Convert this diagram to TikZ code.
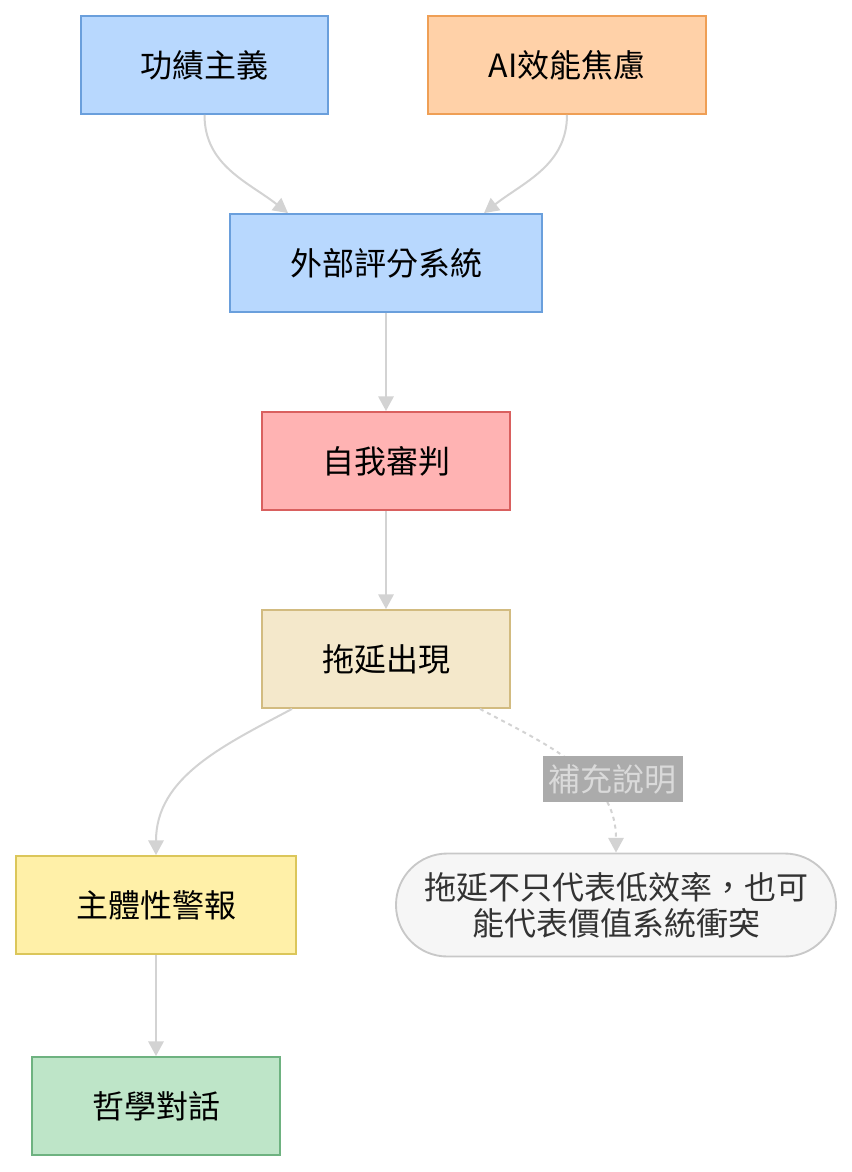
\documentclass[tikz,border=0pt]{standalone}
\usepackage{fontspec}
\newfontfamily\cjk{Noto Sans CJK TC}
\usetikzlibrary{arrows.meta}
\definecolor{blueFill}{HTML}{B8D8FE}
\definecolor{blueLine}{HTML}{6A9FDC}
\definecolor{orangeFill}{HTML}{FFD1A8}
\definecolor{orangeLine}{HTML}{EF9F55}
\definecolor{redFill}{HTML}{FFB3B3}
\definecolor{redLine}{HTML}{D9605F}
\definecolor{tanFill}{HTML}{F4E8CB}
\definecolor{tanLine}{HTML}{D2BB80}
\definecolor{yellowFill}{HTML}{FFF0A8}
\definecolor{yellowLine}{HTML}{DBC65A}
\definecolor{greenFill}{HTML}{BEE5C8}
\definecolor{greenLine}{HTML}{6EB280}
\definecolor{noteFill}{HTML}{F6F6F6}
\definecolor{noteLine}{HTML}{C8C8C8}
\definecolor{edgeGray}{HTML}{D3D3D3}
\definecolor{labelFill}{HTML}{ABABAB}
\definecolor{labelText}{HTML}{DADADA}
\tikzset{
  box/.style={draw, line width=1.4pt, minimum height=73.5pt, inner sep=0pt,
    font=\cjk\fontsize{24}{27}\selectfont, text=black},
  flow/.style={draw=edgeGray, line width=1.5pt,
    -{Triangle[length=11pt,width=11.5pt]}},
  hint/.style={flow, dash pattern=on 3pt off 3pt},
  hintlabel/.style={fill=labelFill, text=labelText, inner xsep=4.5pt,
    minimum height=34.5pt, font=\cjk\fontsize{24}{27}\selectfont}}

\begin{document}
\begin{tikzpicture}[x=0.75pt, y=0.75pt]
  \useasboundingbox (0,0) rectangle (852,-1172);
  % sources at the top
  \node[box, fill=blueFill, draw=blueLine, minimum width=185.25pt] (merit) at (204.5,-65) {功績主義};
  \node[box, fill=orangeFill, draw=orangeLine, minimum width=208.5pt] (aiworry) at (567,-65) {AI效能焦慮};
  % main chain
  \node[box, fill=blueFill, draw=blueLine, minimum width=234pt] (score) at (386,-263) {外部評分系統};
  \node[box, fill=redFill, draw=redLine, minimum width=186pt] (judge) at (386,-461) {自我審判};
  \node[box, fill=tanFill, draw=tanLine, minimum width=186pt] (delay) at (386,-659) {拖延出現};
  \node[box, fill=yellowFill, draw=yellowLine, minimum width=210pt] (alarm) at (156,-905) {主體性警報};
  \node[box, fill=greenFill, draw=greenLine, minimum width=186pt] (dialog) at (156,-1106) {哲學對話};
  % side note
  \node[box, fill=noteFill, draw=noteLine, text=black!80, minimum width=330pt,
    minimum height=77.25pt, rounded corners=38.5pt, align=center] (note) at (616,-905)
    {拖延不只代表低效率，也可\\能代表價值系統衝突};
  % connectors
  \draw[flow] (merit.south) to[out=-90, in=142] ([xshift=-73.5pt]score.north);
  \draw[flow] (aiworry.south) to[out=-90, in=38] ([xshift=73.5pt]score.north);
  \draw[flow] (score) -- (judge);
  \draw[flow] (judge) -- (delay);
  \draw[flow] ([xshift=-70.5pt]delay.south) to[out=-152, in=90] (alarm.north);
  \draw[hint] ([xshift=70.5pt]delay.south) to[out=-28, in=90]
    node[hintlabel, pos=0.6, xshift=18.75pt] (hinttext) {補充說明} (note.north);
  \draw[flow] (alarm) -- (dialog);
\end{tikzpicture}
\end{document}
